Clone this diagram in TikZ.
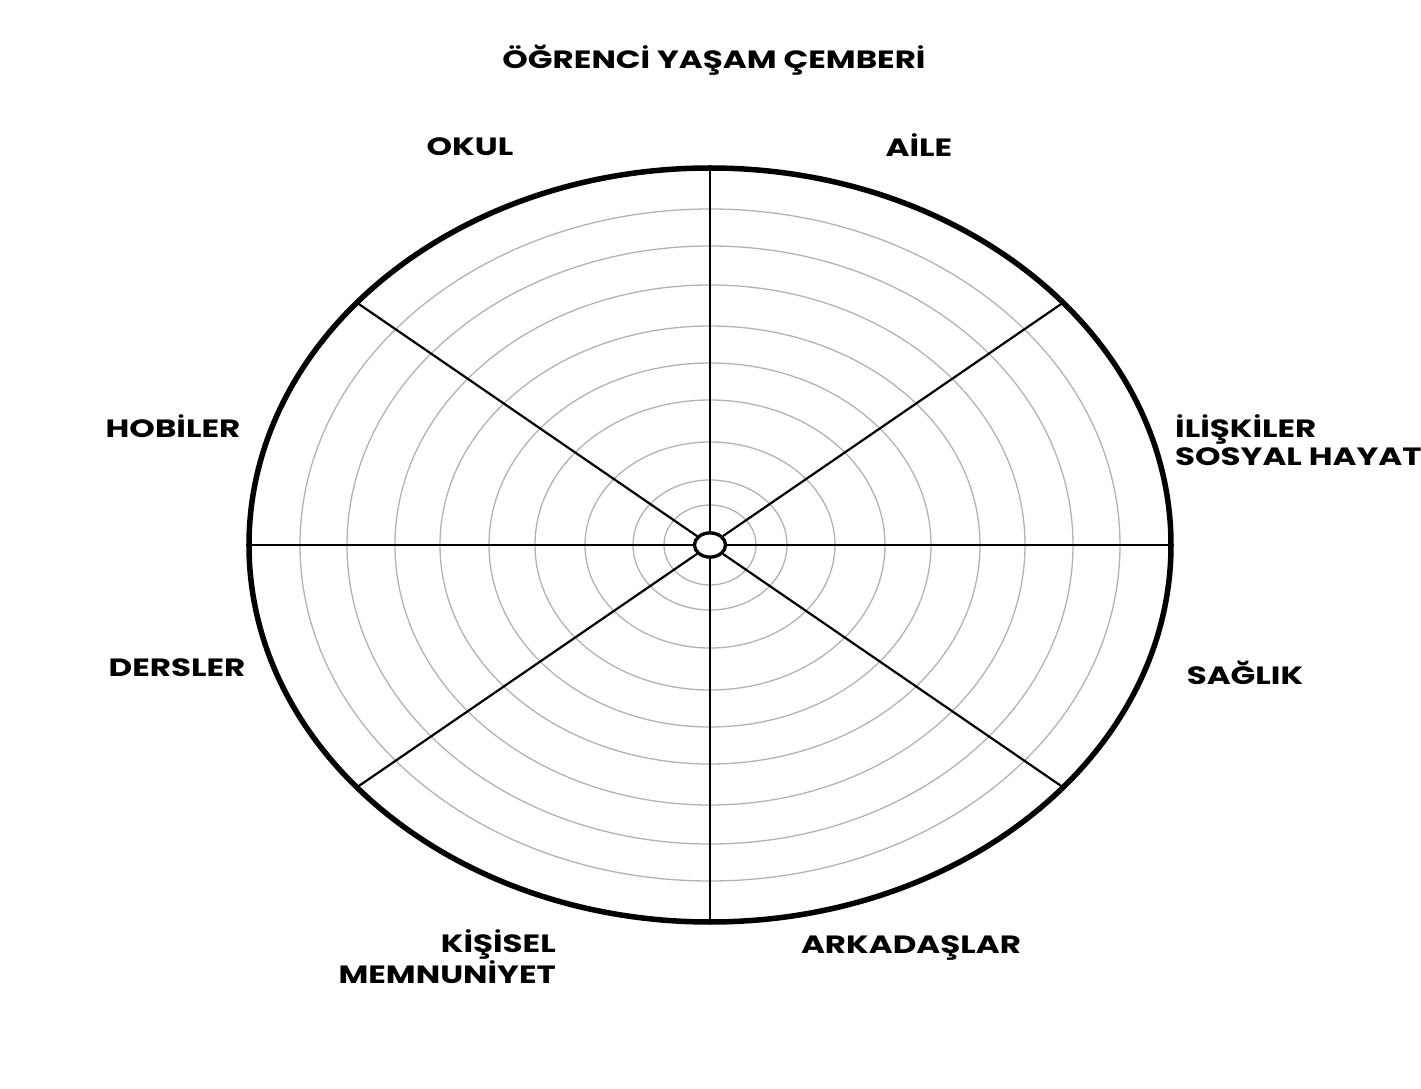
\documentclass[tikz,border=0pt]{standalone}
\usepackage{fontspec}
\setmainfont{Poppins}[FakeStretch=1.3]
\usepackage{tikz}
\usetikzlibrary{positioning,calc}
\usetikzlibrary{shapes.geometric}

\tikzset{
   lbl/.style={font=\bfseries\fontsize{25}{27.5}\selectfont, inner sep=0pt},
   ring/.style={draw=black!30, line width=1.3pt},
   spoke/.style={draw=black, line width=2.2pt},
   hubnode/.style={ellipse, draw, line width=3.2pt, fill=white,
         minimum width=31pt, minimum height=24pt, inner sep=0pt},
}

\begin{document}
\begin{tikzpicture}[x=1pt,y=1pt]
   \useasboundingbox (-710,-544) rectangle (711,545);

   % concentric rings
   \foreach \rx/\ry in {46/40,77/65,125/103,175/145,221/182,270/219,315/260,363/299,410/336}
      \draw[ring] (0,0) ellipse [x radius=\rx pt, y radius=\ry pt];

   % hub and rim points
   \node[hubnode] (hub) at (0,0) {};
   \coordinate (r0)   at (0:461pt and 377pt);
   \coordinate (r40)  at (40:461pt and 377pt);
   \coordinate (r90)  at (90:461pt and 377pt);
   \coordinate (r140) at (140:461pt and 377pt);
   \coordinate (r180) at (180:461pt and 377pt);
   \coordinate (r220) at (220:461pt and 377pt);
   \coordinate (r270) at (270:461pt and 377pt);
   \coordinate (r320) at (320:461pt and 377pt);

   % spokes
   \draw[spoke] (hub) -- (r0);
   \draw[spoke] (hub) -- (r40);
   \draw[spoke] (hub) -- (r90);
   \draw[spoke] (hub) -- (r140);
   \draw[spoke] (hub) -- (r180);
   \draw[spoke] (hub) -- (r220);
   \draw[spoke] (hub) -- (r270);
   \draw[spoke] (hub) -- (r320);

   % outer rim
   \draw[line width=5.5pt] (0,0) ellipse [x radius=461pt, y radius=377pt];
   \node[hubnode] at (hub) {};

   % title
   \node[lbl] (title) at (4,485) {ÖĞRENCİ YAŞAM ÇEMBERİ};

   % segment labels
   \node[lbl] (okul)    at (-240,398) {OKUL};
   \node[lbl] (aile)    at (209,400)  {AİLE};
   \node[lbl] (hobi)    at (-537,119) {HOBİLER};
   \node[lbl, align=left, anchor=west] (iliski) at (465,105)
        {İLİŞKİLER\\SOSYAL HAYAT};
   \node[lbl] (ders)    at (-533,-123) {DERSLER};
   \node[lbl] (saglik)  at (535,-128)  {SAĞLIK};
   \node[lbl, align=right, anchor=east] (kisisel) at (-154,-412)
        {KİŞİSEL\\MEMNUNİYET};
   \node[lbl] (arkadas) at (201,-403)  {ARKADAŞLAR};
\end{tikzpicture}
\end{document}
